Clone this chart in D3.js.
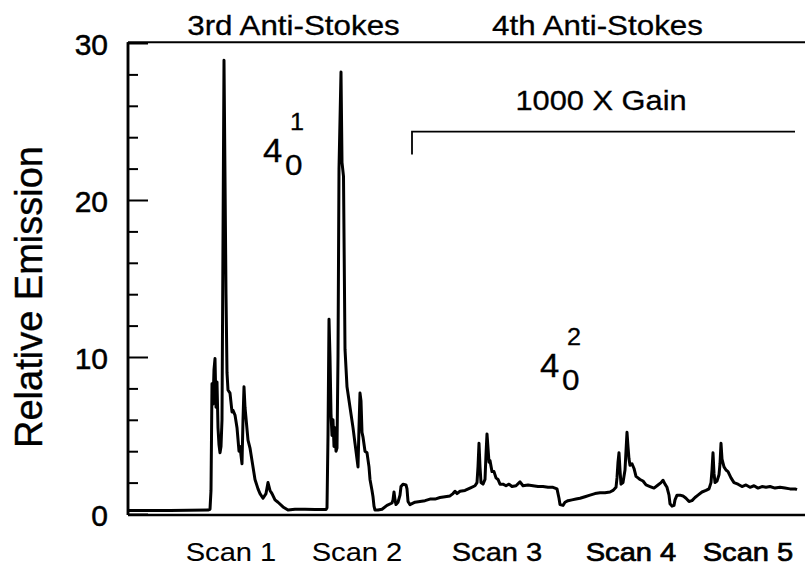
<!DOCTYPE html>
<html><head><meta charset="utf-8">
<script src="https://cdn.jsdelivr.net/npm/d3@7"></script>
<style>
body{margin:0;background:#fff}
svg{display:block}
text{font-family:"Liberation Sans",Arial,Helvetica,sans-serif;fill:#000}
</style>
</head><body>
<svg id="c" width="805" height="567"></svg>
<script>
// ---- data (position in scan channels, emission in relative units) ----
const position = [0,42,80,82,83,84,85,86,87,88,89,90,91,92,93,94,96,98,99,100,102,104,105,107,109,111,112,114,115,116,117,119,120,122,124,127,130,132,135,138,140,142,144,147,150,155,160,167,177,187,198,
199,200,201,202,203,204,205,206,207,208,209,210,211,213,214,215.5,217,219,222,225,227,229,230,231,232,233,234,235,237,239,241,242,244,245,246,247,250,254,259,264,265,266,267,268,270,272,273,275,278,279,280,282,287,
292,297,302,307,312,317,322,325,327,329,332,337,342,347,349,350,351,352,353,355,357,358,359,360,361,362,364,366,368,370,372,375,378,381,384,388,392,395,400,405,410,415,420,425,429,431,432,435,437,440,444,448,452,457,462,467,472,
477,482,485,488,489,490,491,492,493,495,497,498,499,500,501,502,504,506,508,510,512,515,518,522,526,530,533,535,537,539,541,542,544,546,547,549,552,555,558,561,564,567,570,574,578,581,583,584,585,586,587,589,591,592,593,594,596,598,600,603,606,610,614,618,622,626,630,634,638,642,647,652,657,662,667,669];
const emission = [0.23,0.23,0.25,0.3,1.5,8.3,7.0,9.2,9.9,6.8,8.4,5.5,4.4,3.9,4.3,6.0,28.9,14,9,7.9,7.7,6.5,6.6,6.3,5.5,4.0,4.3,3.2,6,8.1,6.8,5.4,4.7,4.2,3.4,2.2,1.6,1.3,1.0,1.3,2.0,1.5,1.3,0.9,0.75,0.45,0.25,0.3,0.3,0.28,0.28,
0.4,5,12.4,10,6.4,5.0,6.0,4.3,5.5,4.0,4.2,10,22,28.15,22.4,21.5,10.5,8.1,6.8,5.5,4.5,3.5,3.0,5.5,7.7,7.2,5.2,4.9,4.0,3.9,3.0,2.2,1.5,1.1,0.5,0.25,0.25,0.3,0.55,0.7,0.9,1.4,0.9,0.6,0.75,1.2,1.75,1.9,1.85,1.6,0.8,0.6,0.75,
0.8,0.85,0.95,0.95,1.05,1.1,1.15,1.3,1.45,1.3,1.45,1.5,1.65,1.8,2.0,3.0,4.5,3.0,2.0,1.9,2.2,3.8,5.1,4.2,3.3,3.4,2.7,2.7,2.3,2.2,1.9,1.9,1.8,1.9,1.75,1.8,2.05,1.8,1.85,1.8,1.75,1.75,1.7,1.7,1.6,1.0,0.6,0.55,0.75,0.85,0.9,0.95,1.0,1.1,1.2,1.3,1.35,
1.35,1.4,1.5,1.7,2.3,3.3,3.9,2.8,1.9,2.0,2.8,4.0,5.2,4.3,3.5,3.1,3.2,2.9,2.4,2.3,2.2,2.1,1.85,1.75,1.65,1.85,2.0,2.15,1.9,1.7,1.2,0.65,0.5,0.55,0.9,1.2,1.2,1.15,1.0,0.8,0.85,1.05,1.2,1.4,1.5,1.6,2.0,2.8,3.9,2.6,2.0,2.1,2.5,3.2,4.5,3.5,3.0,2.8,2.7,2.3,2.0,1.9,1.75,1.85,1.7,1.8,1.65,1.75,1.7,1.75,1.65,1.7,1.65,1.6,1.6,1.55];

const yMajorTicks = [0, 10, 20, 30];
const yMinorTicks = [2,4,6,8,12,14,16,18,22,24,26,28];
const scanLabels = ["Scan 1", "Scan 2", "Scan 3", "Scan 4", "Scan 5"];
const scanCenters = [103, 229, 369, 503, 620];
const bandLabels = ["3rd Anti-Stokes", "4th Anti-Stokes"];
const bandCenters = [165.5, 469.5];
const gainLabel = "1000 X Gain";
const gainSpan = [284, 667];

// ---- chart ----
const svg = d3.select("#c");
const x = d3.scaleLinear().domain([0, 677]).range([128, 805]);
const y = d3.scaleLinear().domain([0, 30]).range([514, 43]);
const FONT = '"Liberation Sans",Arial,Helvetica,sans-serif';

function label(px, py, str, size, sx, anchor, heavy) {
  svg.append("text")
    .attr("transform", `translate(${px},${py}) scale(${sx},1)`)
    .attr("text-anchor", anchor || "middle")
    .style("font-size", size + "px")
    .attr("stroke", "#000")
    .attr("stroke-width", heavy || 0.3)
    .text(str);
}

// frame: top line and bottom axis
svg.append("line").attr("x1", x(0)).attr("x2", x(677)).attr("y1", y(30.05)).attr("y2", y(30.05))
  .attr("stroke", "#000").attr("stroke-width", 2);
svg.append("line").attr("x1", x(0)).attr("x2", x(677)).attr("y1", y(0) + 1).attr("y2", y(0) + 1)
  .attr("stroke", "#000").attr("stroke-width", 2.5);

const axMajor = d3.axisLeft(y).tickValues(yMajorTicks).tickSizeInner(-20).tickSizeOuter(0).tickPadding(20).tickFormat(d3.format("d"));
const axMinor = d3.axisLeft(y).tickValues(yMinorTicks).tickSizeInner(-10).tickSizeOuter(0).tickFormat("");
const gMaj = svg.append("g").attr("transform", `translate(${x(0)},0)`).call(axMajor);
const gMin = svg.append("g").attr("transform", `translate(${x(0)},0)`).call(axMinor);
[gMaj, gMin].forEach(g => {
  g.select(".domain").attr("stroke", "#000").attr("stroke-width", 2.5).attr("d", `M0,${y(0)+1}V${y(30.05)}`);
  g.selectAll(".tick line").attr("stroke", "#000").attr("stroke-width", 2);
});
gMaj.selectAll(".tick text").style("font-family", FONT).style("font-size", "30px")
  .attr("fill", "#000").attr("stroke", "#000").attr("stroke-width", 0.5).attr("dy", "0.38em");

// y title
svg.append("text")
  .attr("transform", `translate(42,297) rotate(-90)`)
  .attr("text-anchor", "middle")
  .style("font-size", "38px")
  .attr("stroke", "#000").attr("stroke-width", 0.4)
  .text("Relative Emission");

// trace
const pts = position.map((p, i) => [p, emission[i]]);
svg.append("path").datum(pts)
  .attr("fill", "none").attr("stroke", "#000").attr("stroke-width", 3).attr("stroke-linejoin", "round")
  .attr("d", d3.line().x(d => x(d[0])).y(d => y(d[1])));

// band labels
bandLabels.forEach((t, i) => label(x(bandCenters[i]), 35, t, 28, 1.12));

// gain bracket
svg.append("path")
  .attr("d", `M${x(gainSpan[0])},${y(22.9)}V${y(24.35)}H${x(gainSpan[1])}`)
  .attr("fill", "none").attr("stroke", "#000").attr("stroke-width", 1.8);
label(601, 110, gainLabel, 28, 1.1);

// transition labels 4_0^1 and 4_0^2
function trans(px, py, sup) {
  label(px, py, "4", 33, 1.05, "start");
  label(px + 22, py + 13, "0", 30, 1.05, "start");
  label(px + 27, py - 32, sup, 24, 1.05, "start");
}
trans(263, 162, "1");
trans(540, 377, "2");

// scan labels (later scans printed heavier in the original)
const scanWeight = [0.1, 0.1, 0.4, 0.7, 0.7];
scanLabels.forEach((t, i) => label(x(scanCenters[i]), 561, t, 26, 1.12, "middle", scanWeight[i]));
</script>
</body></html>
